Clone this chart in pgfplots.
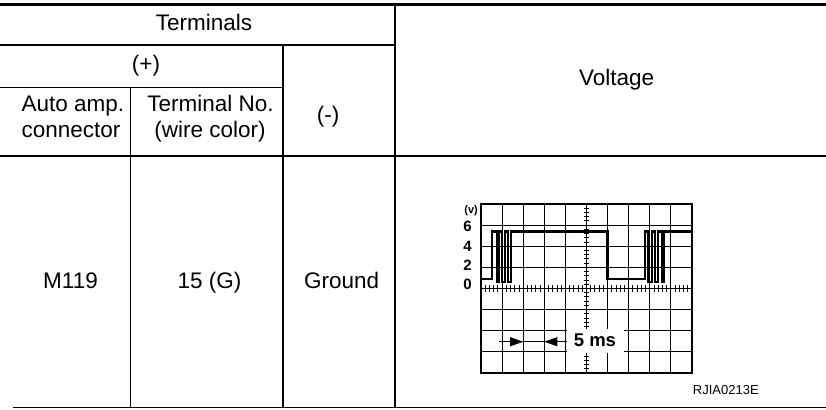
\documentclass[border=0pt]{standalone}
\usepackage{fontspec}
\setmainfont{Liberation Sans}
\usepackage{pgfplots}
\pgfplotsset{compat=1.18}
\begin{document}
\begin{tikzpicture}[x=1pt,y=1pt]
\useasboundingbox (0,0) rectangle (826,409);
% ---- table rules ----
\draw[line width=3.6pt] (0,404.4) -- (826,404.4);
\draw[line width=1.1pt] (0,364) -- (395,364);
\draw[line width=1.1pt] (0,321.7) -- (283,321.7);
\draw[line width=1.1pt] (0,253) -- (826,253);
\draw[line width=1.1pt] (13,1.7) -- (826,1.7);
\draw[line width=1.1pt] (130.5,321.7) -- (130.5,1.7);
\draw[line width=1.1pt] (283,364) -- (283,1.7);
\draw[line width=1.1pt] (395,403) -- (395,1.7);
% ---- table text ----
\begin{scope}[every node/.style={inner sep=0pt, anchor=base, font=\fontsize{22.5}{26}\selectfont}]
\node at (204,378.3) {Terminals};
\node at (146,337.3) {(+)};
\node at (73,297.3) {Auto amp.};
\node at (71,271.3) {connector};
\node at (210.5,297.3) {Terminal No.};
\node at (210,271.3) {(wire color)};
\node at (328,286.4) {(-)};
\node at (616.7,323.3) {Voltage};
\node at (70.5,120) {M119};
\node at (209.5,120) {15 (G)};
\node at (341.7,120) {Ground};
\end{scope}
\node[inner sep=0pt, anchor=base, font=\fontsize{13}{15}\selectfont] at (725.8,14.7) {RJIA0213E};
% ---- oscilloscope ----
\begin{axis}[
  at={(481pt,36pt)}, anchor=south west,
  scale only axis, width=211pt, height=169pt,
  xmin=0, xmax=50, ymin=-8, ymax=8,
  xtick={0,5,...,50}, ytick={-8,-6,...,8},
  xticklabels={}, yticklabels={},
  major tick length=0pt,
  grid=major,
  major grid style={black, line width=1.1pt},
  axis line style={black, line width=1.4pt},
  clip=false,
]
% minor ticks on the centre lines
\pgfplotsinvokeforeach{1,2,...,49}{
  \draw[line width=0.9pt] (axis cs:#1,-0.3) -- (axis cs:#1,0.3);
}
\pgfplotsinvokeforeach{-7.6,-7.2,...,7.6}{
  \draw[line width=0.9pt] (axis cs:24.3,#1) -- (axis cs:25.7,#1);
}
% waveform
\addplot[black, line width=2.3pt, mark=none] coordinates {
(0,0.9)(2.68,0.9)(2.68,5.4)(3.72,5.4)(3.72,0.6)(4.34,0.6)(4.34,5.4)
(5.05,5.4)(5.05,0.6)(5.69,0.6)(5.69,5.4)(6.33,5.4)(6.33,0.6)(7.04,0.6)
(7.04,5.4)(30,5.4)(30,0.9)(38.86,0.9)(38.86,5.4)(39.65,5.4)(39.65,0.6)
(40.45,0.6)(40.45,5.4)(41.23,5.4)(41.23,0.6)(42.02,0.6)(42.02,5.4)
(42.83,5.4)(42.83,0.6)(43.44,0.6)(43.44,5.4)(50,5.4)
};
% 5 ms annotation
\fill[white] (axis cs:20.4,-3.85) rectangle (axis cs:34,-6.15);
\node[inner sep=0pt, anchor=base, font=\bfseries\fontsize{18.5}{18.5}\selectfont] at (axis cs:27,-5.5) {5 ms};
\draw[line width=1.1pt] (axis cs:4.3,-5.04) -- (axis cs:20.4,-5.04);
\fill (axis cs:10,-5.04) -- (axis cs:6.9,-4.6) -- (axis cs:6.9,-5.48) -- cycle;
\fill (axis cs:15,-5.04) -- (axis cs:18.1,-4.6) -- (axis cs:18.1,-5.48) -- cycle;
% y labels
\node[anchor=east, inner sep=0pt, xshift=-3pt, font=\bfseries\fontsize{11}{11}\selectfont] at (axis cs:0,7.4) {(v)};
\node[anchor=east, inner sep=0pt, xshift=-9pt, font=\bfseries\fontsize{15}{15}\selectfont] at (axis cs:0,5.9) {6};
\node[anchor=east, inner sep=0pt, xshift=-9pt, font=\bfseries\fontsize{15}{15}\selectfont] at (axis cs:0,4.0) {4};
\node[anchor=east, inner sep=0pt, xshift=-9pt, font=\bfseries\fontsize{15}{15}\selectfont] at (axis cs:0,2.2) {2};
\node[anchor=east, inner sep=0pt, xshift=-9pt, font=\bfseries\fontsize{15}{15}\selectfont] at (axis cs:0,0.4) {0};
\end{axis}
\end{tikzpicture}
\end{document}
